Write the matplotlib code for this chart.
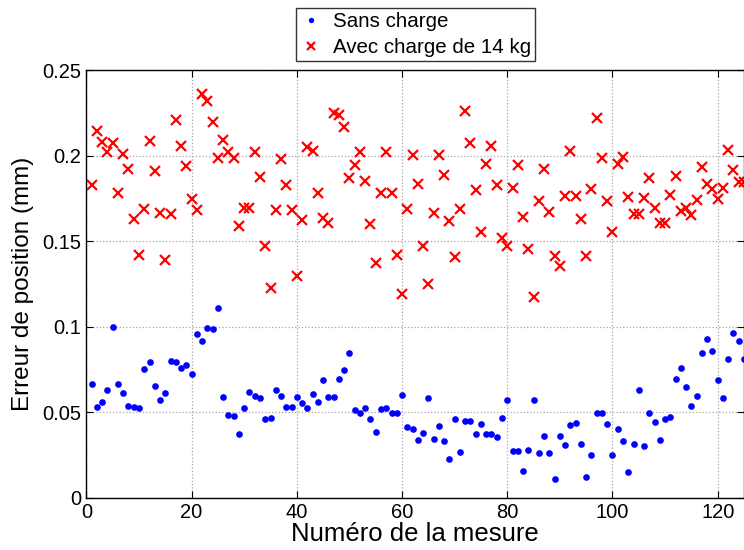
import matplotlib
matplotlib.use('Agg')
import matplotlib.pyplot as plt
import numpy as np

plt.rcParams['font.family'] = ['Liberation Sans', 'DejaVu Sans']

# mesures 1..125
mesure = np.arange(1, 126)

sans_charge = [
    0.0663, 0.0532, 0.0559, 0.0630, 0.1000, 0.0663, 0.0614, 0.0534, 0.0532, 0.0522,
    0.0752, 0.0793, 0.0655, 0.0573, 0.0614, 0.0799, 0.0793, 0.0760, 0.0777, 0.0725,
    0.0957, 0.0918, 0.0992, 0.0984, 0.1111, 0.0590, 0.0483, 0.0478, 0.0372, 0.0524,
    0.0616, 0.0596, 0.0581, 0.0458, 0.0468, 0.0628, 0.0596, 0.0530, 0.0530, 0.0589,
    0.0552, 0.0526, 0.0608, 0.0559, 0.0686, 0.0590, 0.0587, 0.0694, 0.0746, 0.0848,
    0.0513, 0.0497, 0.0524, 0.0460, 0.0384, 0.0517, 0.0523, 0.0495, 0.0493, 0.0602,
    0.0415, 0.0403, 0.0335, 0.0376, 0.0583, 0.0343, 0.0417, 0.0331, 0.0226, 0.0462,
    0.0265, 0.0447, 0.0447, 0.0374, 0.0429, 0.0374, 0.0374, 0.0357, 0.0466, 0.0571,
    0.0273, 0.0273, 0.0156, 0.0281, 0.0571, 0.0261, 0.0359, 0.0259, 0.0107, 0.0361,
    0.0306, 0.0423, 0.0437, 0.0314, 0.0121, 0.0251, 0.0497, 0.0493, 0.0431, 0.0250,
    0.0403, 0.0331, 0.0152, 0.0316, 0.0631, 0.0302, 0.0493, 0.0441, 0.0337, 0.0462,
    0.0470, 0.0694, 0.0758, 0.0645, 0.0536, 0.0594, 0.0844, 0.0928, 0.0856, 0.0686,
    0.0581, 0.0811, 0.0961, 0.0918, 0.0811,
]

avec_charge = [
    0.1826, 0.2143, 0.2077, 0.2021, 0.2075, 0.1781, 0.2009, 0.1920, 0.1627, 0.1417,
    0.1688, 0.2087, 0.1911, 0.1662, 0.1388, 0.1657, 0.2208, 0.2056, 0.1939, 0.1746,
    0.1682, 0.2358, 0.2317, 0.2194, 0.1984, 0.2091, 0.2021, 0.1987, 0.1588, 0.1692,
    0.1692, 0.2019, 0.1876, 0.1473, 0.1224, 0.1680, 0.1980, 0.1830, 0.1682, 0.1295,
    0.1625, 0.2052, 0.2028, 0.1783, 0.1637, 0.1607, 0.2247, 0.2235, 0.2169, 0.1867,
    0.1943, 0.2019, 0.1851, 0.1598, 0.1372, 0.1779, 0.2019, 0.1783, 0.1417, 0.1191,
    0.1689, 0.2001, 0.1835, 0.1473, 0.1247, 0.1666, 0.2001, 0.1888, 0.1617, 0.1407,
    0.1689, 0.2260, 0.2075, 0.1797, 0.1553, 0.1951, 0.2058, 0.1826, 0.1520, 0.1473,
    0.1809, 0.1947, 0.1639, 0.1454, 0.1173, 0.1732, 0.1921, 0.1672, 0.1415, 0.1354,
    0.1762, 0.2025, 0.1764, 0.1627, 0.1413, 0.1804, 0.2221, 0.1984, 0.1732, 0.1553,
    0.1949, 0.1990, 0.1756, 0.1660, 0.1660, 0.1754, 0.1867, 0.1695, 0.1604, 0.1607,
    0.1771, 0.1880, 0.1676, 0.1692, 0.1652, 0.1738, 0.1935, 0.1832, 0.1804, 0.1748,
    0.1809, 0.2031, 0.1914, 0.1847, 0.1847,
]

xticks = [0, 20, 40, 60, 80, 100, 120]
yticks = [0, 0.05, 0.1, 0.15, 0.2, 0.25]

fig = plt.figure(figsize=(7.44, 5.5), dpi=100)
ax = fig.add_axes([0.1161, 0.0951, 0.8839, 0.7776])

ax.plot(mesure, sans_charge, linestyle='none', marker='o', markersize=4.8,
        color='#0000ff', markeredgewidth=0, label='Sans charge')
ax.plot(mesure, avec_charge, linestyle='none', marker='x', markersize=6.5,
        markeredgewidth=1.6, color='#ff0000', label='Avec charge de 14 kg')

ax.set_xlim(0, 125)
ax.set_ylim(0, 0.25)
ax.set_xticks(xticks)
ax.set_yticks(yticks)
ax.set_yticklabels(['0', '0.05', '0.1', '0.15', '0.2', '0.25'])
ax.grid(True, linestyle=':', color='0.65', linewidth=0.9)
ax.set_axisbelow(True)
ax.tick_params(direction='in', top=True, right=True, labelsize=14.5, length=5)
for s in ax.spines.values():
    s.set_linewidth(1.0)

ax.set_xlabel('Numéro de la mesure', fontsize=18.5, labelpad=0)
ax.set_ylabel('Erreur de position (mm)', fontsize=17.5, labelpad=6)

leg = ax.legend(loc='lower center', bbox_to_anchor=(0.501, 1.021), fontsize=14.8,
                frameon=True, fancybox=False, edgecolor='black', borderpad=0.2,
                handlelength=1.0, handletextpad=0.6, labelspacing=0.32,
                borderaxespad=0, markerscale=0.8)
leg.get_frame().set_linewidth(1.0)

fig.savefig('out.png', dpi=100)
